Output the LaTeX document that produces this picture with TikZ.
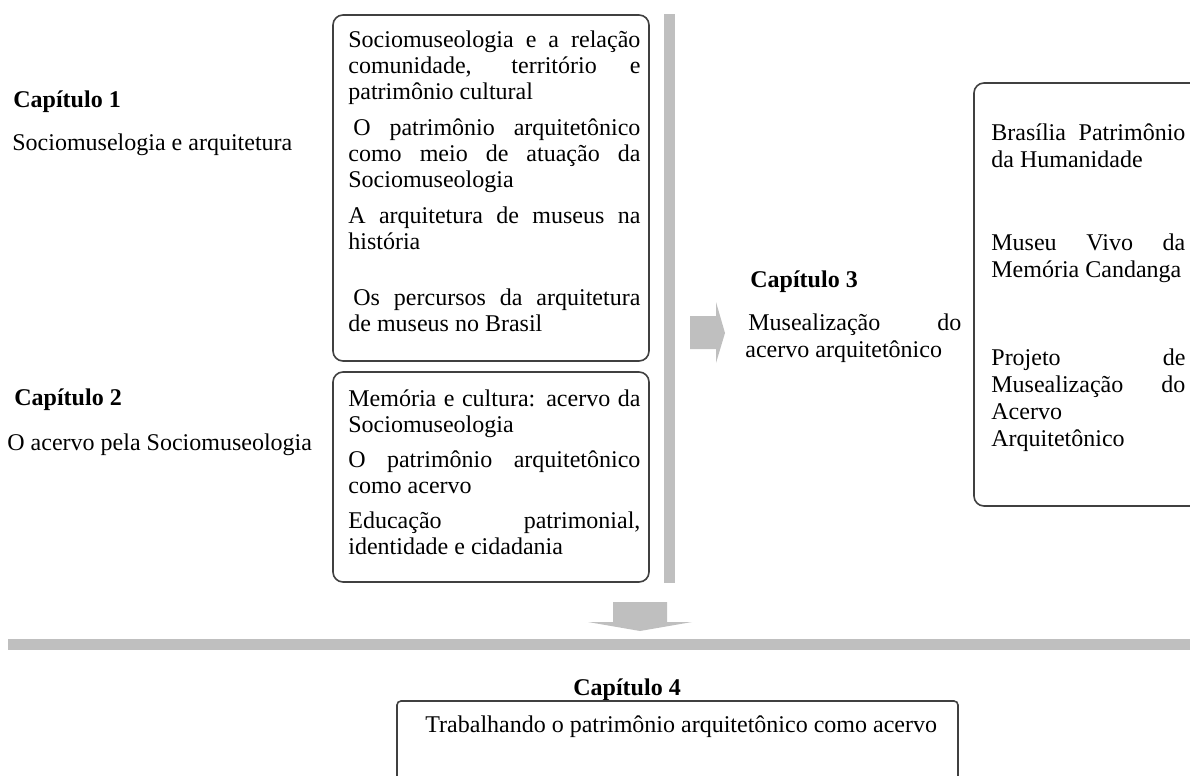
\documentclass[tikz,border=0pt]{standalone}
\usepackage{fontspec}
\setmainfont{Liberation Serif}
\definecolor{bargray}{HTML}{BFBFBF}
\definecolor{linegray}{HTML}{404040}
\hyphenpenalty=10000

\begin{document}
\begin{tikzpicture}[x=0.5pt,y=-0.5pt]
   \tikzstyle{chapbox}=[draw=linegray,line width=0.8pt,rounded corners=5pt]
   \tikzstyle{bar}=[fill=bargray,draw=none]
   \tikzstyle{plain}=[anchor=base west,inner sep=0pt,font=\fontsize{12}{13}\selectfont]
   \tikzstyle{title}=[plain,font=\fontsize{12}{13}\selectfont\bfseries]
   \tikzstyle{topic}=[plain,text width=146pt,align=justify]
   \tikzstyle{item}=[plain,text width=97pt,align=justify,font=\fontsize{12}{13.5}\selectfont]

   \useasboundingbox (0,0) rectangle (1190,776);

   \node (cap1) [title] at (13,107) {Capítulo 1};
   \node (cap1text) [plain] at (12,150) {Sociomuselogia e arquitetura};
   \node (cap2) [title] at (14,405) {Capítulo 2};
   \node (cap2text) [plain] at (7,450) {O acervo pela Sociomuseologia};

   \draw [chapbox] (333,15) rectangle (649,361);
   \node (a1) [topic] at (348,47) {Sociomuseologia e a relação\linebreak comunidade, território e\linebreak patrimônio cultural};
   \node (a2) [topic] at (348,135) {\hspace*{2.5pt}O patrimônio arquitetônico\linebreak como meio de atuação da\linebreak Sociomuseologia};
   \node (a3) [topic] at (348,223) {A arquitetura de museus na\linebreak história};
   \node (a4) [topic] at (348,305) {\hspace*{2.5pt}Os percursos da arquitetura\linebreak de museus no Brasil};

   \draw [chapbox] (333,372) rectangle (649,582);
   \node (b1) [topic] at (348,406) {Memória e cultura: acervo da\linebreak Sociomuseologia};
   \node (b2) [topic] at (348,467) {O patrimônio arquitetônico\linebreak como acervo};
   \node (b3) [topic] at (348,528) {Educação patrimonial,\linebreak identidade e cidadania};

   \fill [bar] (664,14) rectangle (675,583);
   \fill [bar] (690,316) -- (716,316) -- (716,302) -- (725,333) -- (716,363) -- (716,349) -- (690,349) -- cycle;

   \node (cap3) [title] at (750,287) {Capítulo 3};
   \node (cap3text) [plain,text width=108pt,align=justify,font=\fontsize{12}{13.5}\selectfont] at (745,330) {\hspace*{1.5pt}Musealização do\linebreak acervo arquitetônico};

   \draw [chapbox] (974,83) rectangle (1210,506);
   \node (r1) [item] at (991,140) {Brasília Patrimônio\linebreak da Humanidade};
   \node (r2) [item] at (991,250) {Museu Vivo da\linebreak Memória Candanga};
   \node (r3) [item] at (991,365) {Projeto de\linebreak Musealização do\linebreak Acervo\linebreak Arquitetônico};

   \fill [bar] (613,602) -- (667,602) -- (667,622) -- (692,622) -- (640,631) -- (588,622) -- (613,622) -- cycle;
   \fill [bar] (8,639) rectangle (1190,650);

   \node (cap4) [title] at (573,695) {Capítulo 4};
   \draw [chapbox,rounded corners=2pt] (397,701) rectangle (958,800);
   \node (cap4text) [plain] at (425,732) {Trabalhando o patrimônio arquitetônico como acervo};
\end{tikzpicture}
\end{document}
